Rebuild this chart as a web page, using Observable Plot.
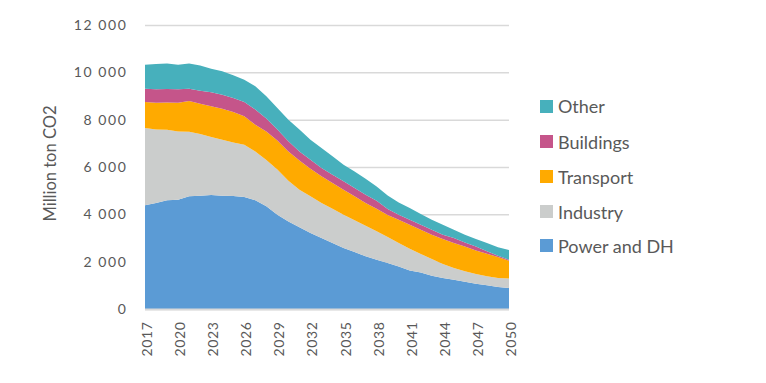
<!DOCTYPE html>
<html>
<head>
<meta charset="utf-8">
<script src="https://cdn.jsdelivr.net/npm/d3@7"></script>
<script src="https://cdn.jsdelivr.net/npm/@observablehq/plot@0.6"></script>
<style>
  body { margin: 0; background: #fff; font-family: Lato, "Open Sans", sans-serif; }
  #wrap { position: relative; width: 766px; height: 383px; }
  #legend { position: absolute; left: 540px; top: 0; }
  .li { position: absolute; left: 0; white-space: nowrap; display: flex; align-items: center;
        font-size: 18px; color: #595959; }
  .sw { width: 13px; height: 13px; margin-right: 5px; display: inline-block; }
  g[aria-label="y-axis tick label"] text { letter-spacing: 1.6px; }
  g[aria-label="x-axis tick label"] text { letter-spacing: 0.6px; }
</style>
</head>
<body>
<div id="wrap"><div id="chart"></div><div id="legend"></div></div>
<script>
const years = [2017,2018,2019,2020,2021,2022,2023,2024,2025,2026,2027,2028,2029,2030,2031,2032,2033,
  2034,2035,2036,2037,2038,2039,2040,2041,2042,2043,2044,2045,2046,2047,2048,2049,2050];
const powerDH = [4380,4480,4590,4620,4760,4790,4815,4790,4775,4735,4600,4340,3985,3700,3450,3210,3000,
  2790,2580,2410,2225,2085,1945,1800,1630,1545,1405,1310,1240,1155,1070,1000,930,890];
const industry = [3270,3100,2985,2875,2730,2605,2455,2365,2265,2210,2060,1960,1905,1720,1590,1550,1480,
  1450,1405,1335,1295,1195,1100,990,920,780,710,590,490,435,410,380,380,400];
const transport = [1095,1140,1155,1225,1300,1280,1295,1310,1285,1195,1130,1200,1225,1240,1230,1170,1125,
  1085,1055,1015,960,960,925,985,1010,1025,1025,1060,1060,1055,995,955,885,750];
const buildings = [565,570,570,560,520,550,590,590,590,605,635,550,465,425,390,380,355,
  350,355,355,350,335,260,210,215,210,210,180,210,170,170,100,55,45];
const other = [1015,1065,1070,1045,1060,1060,1000,990,960,945,985,935,915,915,920,845,845,
  775,705,700,675,605,570,520,495,455,425,420,350,325,315,355,355,410];

const seriesNames = ["Power and DH", "Industry", "Transport", "Buildings", "Other"];
const seriesColors = ["#5B9BD5", "#CBCDCC", "#FFAA00", "#C5558A", "#47B0BC"];
const xTicks = [2017,2020,2023,2026,2029,2032,2035,2038,2041,2044,2047,2050];
const yTicks = [0,2000,4000,6000,8000,10000,12000];
const yLabel = "Million ton CO2";

const seriesValues = [powerDH, industry, transport, buildings, other];
const data = [];
seriesNames.forEach((name, i) => {
  years.forEach((yr, j) => data.push({year: yr, series: name, value: seriesValues[i][j]}));
});

const fmt = d => d3.format(",")(d).replace(/,/g, " ");

const chart = Plot.plot({
  width: 766,
  height: 383,
  marginLeft: 145,
  marginRight: 257,
  marginTop: 25,
  marginBottom: 74,
  style: {fontFamily: "Lato, 'Open Sans', sans-serif", color: "#595959", background: "#fff"},
  x: {domain: [2017, 2050]},
  y: {domain: [0, 12000]},
  color: {domain: seriesNames, range: seriesColors},
  marks: [
    Plot.gridY(yTicks, {stroke: "#d9d9d9", strokeOpacity: 1, strokeWidth: 1.5}),
    Plot.areaY(data, {x: "year", y: "value", z: "series", fill: "series",
      order: seriesNames, curve: "linear"}),
    Plot.ruleY([0], {stroke: "#d9d9d9", strokeWidth: 2}),
    Plot.axisY({ticks: yTicks, tickFormat: fmt, tickSize: 0, tickPadding: 18, label: null,
      fontSize: 14, fill: "#595959"}),
    Plot.axisX({ticks: xTicks, tickFormat: d => String(d), tickRotate: -90, tickSize: 0,
      tickPadding: 12, dx: 2, label: null, fontSize: 14, fill: "#595959"}),
    Plot.text([yLabel], {frameAnchor: "left", dx: -95, dy: -4, rotate: -90, textAnchor: "middle",
      fontSize: 16.5, fill: "#595959"})
  ]
});
document.getElementById("chart").appendChild(chart);

const legend = document.getElementById("legend");
const legendOrder = ["Other", "Buildings", "Transport", "Industry", "Power and DH"];
const rowY = [106, 141.5, 176.5, 211.5, 245.5];
legendOrder.forEach((name, k) => {
  const row = document.createElement("div");
  row.className = "li";
  row.style.top = (rowY[k] - 12) + "px";
  row.style.height = "24px";
  const sw = document.createElement("span");
  sw.className = "sw";
  sw.style.background = seriesColors[seriesNames.indexOf(name)];
  row.appendChild(sw);
  row.appendChild(document.createTextNode(name));
  legend.appendChild(row);
});
</script>
</body>
</html>
